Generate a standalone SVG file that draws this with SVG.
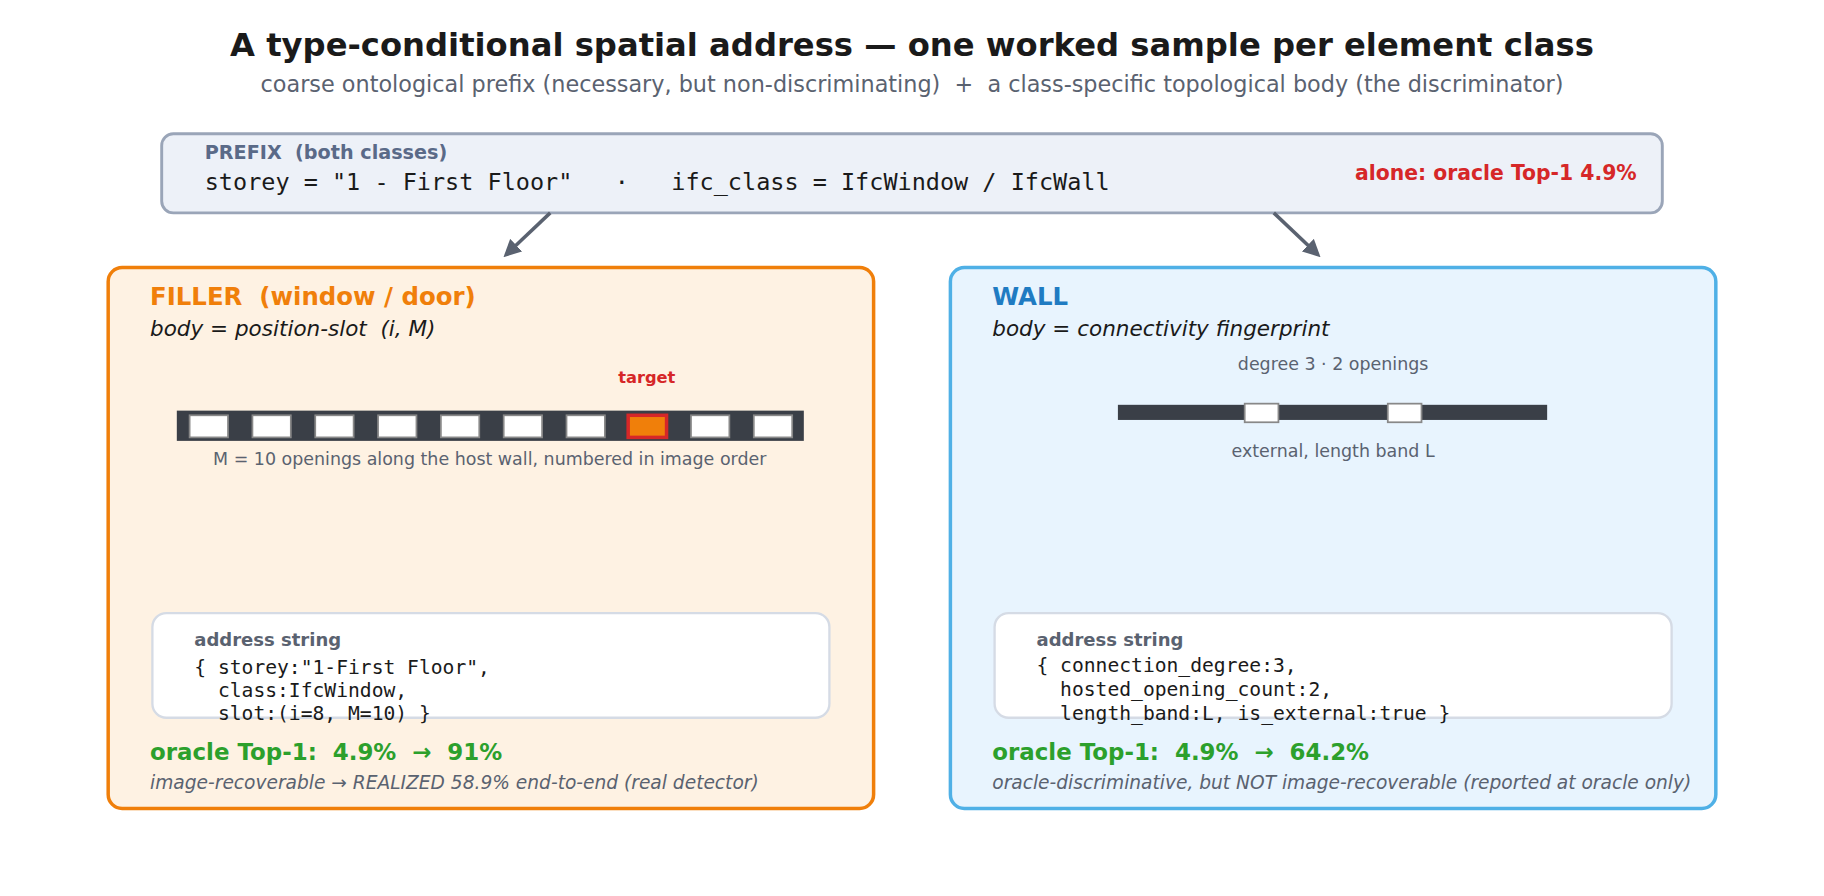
<svg xmlns="http://www.w3.org/2000/svg" width="1824" height="896" viewBox="0 0 1824 896">
<defs>
<marker id="ah" viewBox="0 0 10 10" refX="8" refY="5" markerWidth="5" markerHeight="5" orient="auto"><path d="M0,0 L10,5 L0,10 z" fill="#5a6270"/></marker>
<style>
text{font-family:"DejaVu Sans","Noto Sans",sans-serif}
.mono{font-family:"DejaVu Sans Mono","Liberation Mono",monospace;fill:#1a1a1a}
.gray{fill:#5a6270}
.op{fill:#fff;stroke:#888;stroke-width:1.5}
.bar{fill:#3a3f47}
.addr{fill:#fff;stroke:#d5dbe5;stroke-width:2}
.green{fill:#2ca02c;font-weight:bold;font-size:19.7px}
.note{fill:#5a6270;font-style:italic;font-size:16px}
</style>
</defs>
<rect width="1824" height="896" fill="#fff"/>
<g transform="scale(1.16327)">
<text x="784" y="48" text-anchor="middle" font-size="27.7" font-weight="bold" fill="#1a1a1a">A type-conditional spatial address — one worked sample per element class</text>
<text x="784" y="79" text-anchor="middle" font-size="19.2" class="gray" xml:space="preserve">coarse ontological prefix (necessary, but non-discriminating)  +  a class-specific topological body (the discriminator)</text>

<g id="prefix">
<rect x="139" y="115" width="1290" height="68" rx="10" fill="#edf1f8" stroke="#9aa5b8" stroke-width="2.5"/>
<text x="176" y="137" font-size="16.5" font-weight="bold" fill="#5a6a88" xml:space="preserve">PREFIX  (both classes)</text>
<text x="176" y="163" font-size="20.2" class="mono" xml:space="preserve">storey = "1 - First Floor"   ·   ifc_class = IfcWindow / IfcWall</text>
<text x="1407" y="155" text-anchor="end" font-size="17.5" font-weight="bold" fill="#d62728">alone: oracle Top-1 4.9%</text>
</g>

<g id="connectors" stroke="#5a6270" stroke-width="3" fill="none">
<line x1="473" y1="183" x2="435" y2="219" marker-end="url(#ah)"/>
<line x1="1095" y1="183" x2="1133" y2="219" marker-end="url(#ah)"/>
</g>

<g id="filler">
<rect x="93" y="230" width="658" height="465" rx="12" fill="#fef2e3" stroke="#f07f0a" stroke-width="3"/>
<text x="129" y="262" font-size="21" font-weight="bold" fill="#f07f0a" xml:space="preserve">FILLER  (window / door)</text>
<text x="129" y="289" font-size="18.5" font-style="italic" fill="#1a1a1a" xml:space="preserve">body = position-slot  (i, M)</text>
<text x="556" y="329" text-anchor="middle" font-size="14" font-weight="bold" fill="#d62728">target</text>
<rect x="152" y="353" width="539" height="26" class="bar"/>
<rect x="163" y="357" width="33" height="19" class="op"/>
<rect x="217" y="357" width="33" height="19" class="op"/>
<rect x="271" y="357" width="33" height="19" class="op"/>
<rect x="325" y="357" width="33" height="19" class="op"/>
<rect x="379" y="357" width="33" height="19" class="op"/>
<rect x="433" y="357" width="33" height="19" class="op"/>
<rect x="487" y="357" width="33" height="19" class="op"/>
<rect x="540" y="357" width="33" height="19" fill="#f07f0a" stroke="#d62728" stroke-width="3"/>
<rect x="594" y="357" width="33" height="19" class="op"/>
<rect x="648" y="357" width="33" height="19" class="op"/>
<text x="421" y="400" text-anchor="middle" font-size="15" class="gray">M = 10 openings along the host wall, numbered in image order</text>
<rect x="131" y="527" width="582" height="90" rx="12" class="addr"/>
<text x="167" y="555" font-size="15.5" font-weight="bold" class="gray">address string</text>
<text font-size="16.9" class="mono" xml:space="preserve"><tspan x="167" y="579">{ storey:"1-First Floor",</tspan><tspan x="167" y="599">  class:IfcWindow,</tspan><tspan x="167" y="619">  slot:(i=8, M=10) }</tspan></text>
<text x="129" y="653" class="green" xml:space="preserve">oracle Top-1:  4.9%  →  91%</text>
<text x="129" y="678" class="note">image-recoverable → REALIZED 58.9% end-to-end (real detector)</text>
</g>

<g id="wall">
<rect x="817" y="230" width="658" height="465" rx="12" fill="#e8f4fe" stroke="#4fb0e6" stroke-width="3"/>
<text x="853" y="262" font-size="21" font-weight="bold" fill="#1f7bc2">WALL</text>
<text x="853" y="289" font-size="18.5" font-style="italic" fill="#1a1a1a">body = connectivity fingerprint</text>
<text x="1146" y="318" text-anchor="middle" font-size="15" class="gray">degree 3 · 2 openings</text>
<rect x="961" y="348" width="369" height="13" class="bar"/>
<rect x="1070" y="347" width="29" height="16" class="op"/>
<rect x="1193" y="347" width="29" height="16" class="op"/>
<text x="1146" y="393" text-anchor="middle" font-size="15" class="gray">external, length band L</text>
<rect x="855" y="527" width="582" height="90" rx="12" class="addr"/>
<text x="891" y="555" font-size="15.5" font-weight="bold" class="gray">address string</text>
<text font-size="16.9" class="mono" xml:space="preserve"><tspan x="891" y="578">{ connection_degree:3,</tspan><tspan x="891" y="598">  hosted_opening_count:2,</tspan><tspan x="891" y="619">  length_band:L, is_external:true }</tspan></text>
<text x="853" y="653" class="green" xml:space="preserve">oracle Top-1:  4.9%  →  64.2%</text>
<text x="853" y="678" class="note">oracle-discriminative, but NOT image-recoverable (reported at oracle only)</text>
</g>
</g>
</svg>
